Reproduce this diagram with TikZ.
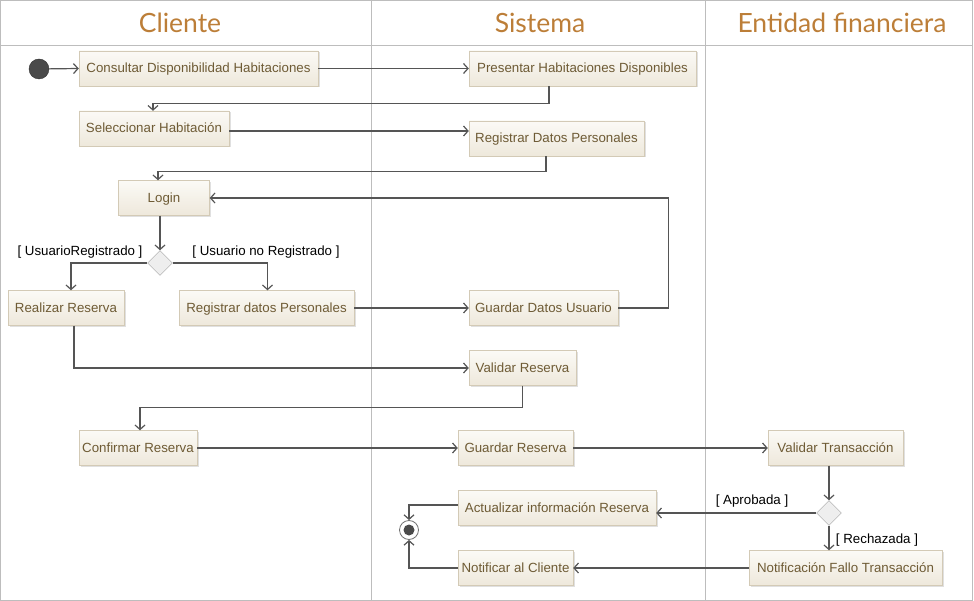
\documentclass[tikz,border=0pt]{standalone}
\usepackage{fontspec}
\setmainfont{Liberation Sans}
\newfontfamily\headfont{Lato}
\usetikzlibrary{arrows.meta,shapes.geometric,shadows}
\definecolor{lanegray}{HTML}{BDBDBD}
\definecolor{headcol}{HTML}{BC7E38}
\definecolor{acttext}{HTML}{6E5B35}
\definecolor{actborder}{HTML}{D3CAB6}
\definecolor{acttop}{HTML}{FBFAF6}
\definecolor{actbot}{HTML}{EEE8DB}
\definecolor{flowcol}{HTML}{555555}
\definecolor{initcol}{HTML}{4A4A4A}
\definecolor{decfill}{HTML}{EEEEEE}
\definecolor{decdraw}{HTML}{A0A0A0}
\begin{document}
\begin{tikzpicture}[x=1pt,y=-1pt,
  act/.style={draw=actborder, top color=acttop, bottom color=actbot, text=acttext,
    font=\fontsize{13.3}{15}\selectfont, minimum height=35pt, inner sep=0pt,
    text height=9.6pt, text depth=0.6pt,
    drop shadow={shadow xshift=1.5pt,shadow yshift=-1.5pt,fill=black,opacity=0.12}},
  head/.style={font=\headfont\fontsize{26.5}{30}\selectfont, text=headcol},
  flow/.style={draw=flowcol, line width=1.2pt, -{Straight Barb[length=4.5pt,width=10pt]}},
  lab/.style={font=\fontsize{13.3}{15}\selectfont, text=black, inner sep=0pt},
  dec/.style={diamond, draw=decdraw, fill=decfill, minimum size=25pt, inner sep=0pt, aspect=1},
  lane/.style={draw=lanegray, line width=0.8pt}
]
\useasboundingbox (0,0) rectangle (974,601);
% swimlanes
\draw[lane] (0.5,0.5) rectangle (972.5,600.5);
\draw[lane] (0.5,45) -- (972.5,45);
\draw[lane] (371,0.5) -- (371,600.5);
\draw[lane] (705,0.5) -- (705,600.5);
\node[head] (hc) at (180,23) {Cliente};
\node[head] (hs) at (540,23) {Sistema};
\node[head] (he) at (842,23) {Entidad financiera};

% nodes
\node[circle, fill=initcol, draw=black!80, minimum size=20pt, inner sep=0pt] (init) at (39,69) {};
\node[act, minimum width=239pt] (cons) at (198.5,68.5) {Consultar Disponibilidad Habitaciones};
\node[act, minimum width=227pt] (pres) at (582.5,68.5) {Presentar Habitaciones Disponibles};
\node[act, minimum width=150pt] (sel) at (154,128.5) {Seleccionar Habitación};
\node[act, minimum width=175pt] (reg) at (556.5,138.5) {Registrar Datos Personales};
\node[act, minimum width=91pt] (login) at (164,198) {Login};
\node[dec] (d1) at (160,263) {};
\node[act, minimum width=116pt] (real) at (66,308) {Realizar Reserva};
\node[act, minimum width=175pt] (regd) at (266.5,308) {Registrar datos Personales};
\node[act, minimum width=149pt] (guard) at (543.5,308) {Guardar Datos Usuario};
\node[act, minimum width=107pt] (val) at (522.5,368) {Validar Reserva};
\node[act, minimum width=118pt] (conf) at (138,448) {Confirmar Reserva};
\node[act, minimum width=115pt] (gres) at (515.5,448) {Guardar Reserva};
\node[act, minimum width=135pt] (vtrans) at (835.5,448) {Validar Transacción};
\node[dec] (d2) at (829,513) {};
\node[act, minimum width=198pt] (actu) at (557,508) {Actualizar información Reserva};
\node[circle, draw=black!55, fill=white, line width=0.8pt, minimum size=19pt, inner sep=0pt] (fin) at (409,530) {};
\node[circle, fill=initcol, minimum size=11pt, inner sep=0pt] (finin) at (fin) {};
\node[act, minimum width=115pt] (notif) at (515.5,568) {Notificar al Cliente};
\node[act, minimum width=193pt] (fallo) at (845.5,568) {Notificación Fallo Transacción};

% guard labels
\node[lab] (l1) at (80,252) {[ UsuarioRegistrado ]};
\node[lab] (l2) at (266,252) {[ Usuario no Registrado ]};
\node[lab] (l3) at (752,501) {[ Aprobada ]};
\node[lab] (l4) at (877,540) {[ Rechazada ]};

% connectors
\draw[flow] (init) -- (cons.west);
\draw[flow] (cons.east) -- (pres.west);
\draw[flow] ([xshift=-33.5pt]pres.south) -- ++(0,17) -| ([xshift=-1pt]sel.north);
\coordinate (s1) at ([yshift=-2.5pt]sel.east);
\draw[flow] (s1) -- (s1 -| reg.west);
\draw[flow] ([xshift=-10.5pt]reg.south) -- ++(0,15) -| ([xshift=-6pt]login.north);
\draw[flow] ([xshift=-4pt]login.south) -- (d1.north);
\draw[flow] (d1.west) -| ([xshift=5pt]real.north);
\draw[flow] (d1.east) -| ([xshift=1pt]regd.north);
\draw[flow] (regd.east) -- (guard.west);
\draw[flow] (guard.east) -- ++(50,0) |- (login.east);
\draw[flow] ([xshift=8pt]real.south) |- (val.west);
\draw[flow] (val.south) -- ++(0,22) -| ([xshift=2pt]conf.north);
\draw[flow] (conf.east) -- (gres.west);
\draw[flow] (gres.east) -- (vtrans.west);
\draw[flow] ([xshift=-6.5pt]vtrans.south) -- (d2.north);
\draw[flow] (d2.west) -- (d2.west -| actu.east);
\draw[flow] (d2.south) -- (d2.south |- fallo.north);
\draw[flow] (fallo.west) -- (notif.east);
\draw[flow] ([yshift=3pt]actu.west) -| (fin.north);
\draw[flow] (notif.west) -| (fin.south);
\end{tikzpicture}
\end{document}
